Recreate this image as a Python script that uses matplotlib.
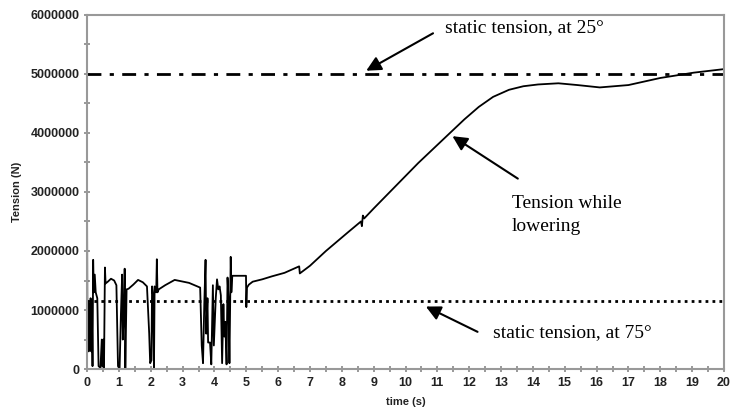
import matplotlib
matplotlib.use("Agg")
import matplotlib.pyplot as plt
from matplotlib.ticker import MultipleLocator, FuncFormatter

# time (s) and measured tension (N) while lowering
time_s = [0.00, 0.01, 0.03, 0.05, 0.07, 0.09, 0.11, 0.13, 0.15, 0.17, 0.19, 0.21,
          0.24, 0.27, 0.32, 0.36, 0.42, 0.46, 0.48, 0.51, 0.53, 0.56, 0.58, 0.65,
          0.75, 0.85, 0.92, 0.97, 1.02, 1.06, 1.10, 1.12, 1.16, 1.18, 1.20, 1.24,
          1.30, 1.45, 1.60, 1.75, 1.88, 1.95, 1.98, 2.02, 2.04, 2.07, 2.10, 2.12,
          2.17, 2.19, 2.21, 2.25, 2.45, 2.75, 3.20, 3.55, 3.60, 3.64, 3.68, 3.72,
          3.74, 3.78, 3.80, 3.86, 3.90, 3.95, 3.98, 4.04, 4.08, 4.12, 4.16, 4.20,
          4.24, 4.28, 4.31, 4.34, 4.38, 4.41, 4.44, 4.47, 4.51, 4.53, 4.56, 4.80,
          4.99, 5.00, 5.02, 5.08, 5.20, 5.50, 5.80, 6.20, 6.66, 6.68, 7.00, 7.50,
          8.20, 8.60, 8.63, 8.66, 8.70, 9.00, 9.60, 10.40, 11.34, 11.85, 12.30,
          12.75, 13.25, 13.70, 14.16, 14.80, 15.40, 16.10, 17.00, 18.00, 19.05,
          20.00]
tension = [2.50, 0.30, 1.15, 0.30, 1.10, 0.45, 1.20, 0.30, 0.95, 0.05, 1.85, 1.30,
           1.60, 1.30, 1.20, 0.05, 0.02, 0.50, 0.05, 0.50, 0.00, 1.72, 1.45, 1.48,
           1.53, 1.50, 1.42, 0.05, 0.00, 0.90, 1.60, 0.50, 1.10, 1.70, 0.00, 1.35,
           1.36, 1.43, 1.51, 1.47, 1.40, 0.60, 0.10, 0.15, 1.40, 1.25, 0.00, 1.40,
           1.30, 1.86, 1.30, 1.35, 1.42, 1.51, 1.46, 1.38, 0.40, 0.10, 1.10, 1.85,
           0.60, 1.20, 0.45, 0.45, 0.08, 1.42, 0.40, 1.20, 1.52, 1.35, 1.40, 1.25,
           0.10, 1.10, 0.55, 0.80, 0.08, 1.55, 1.20, 0.10, 1.90, 1.30, 1.58, 1.58,
           1.58, 1.05, 1.38, 1.43, 1.48, 1.52, 1.57, 1.63, 1.74, 1.62, 1.75, 2.00,
           2.32, 2.50, 2.42, 2.60, 2.55, 2.72, 3.05, 3.49, 3.97, 4.23, 4.44,
           4.61, 4.73, 4.79, 4.82, 4.84, 4.81, 4.77, 4.81, 4.93, 5.02,
           5.08]
tension = [v * 1e6 for v in tension]

static_25 = 5000000
static_75 = 1150000

fig = plt.figure(figsize=(7.32, 4.11), dpi=100)
ax = fig.add_axes([0.119, 0.102, 0.870, 0.862])

ax.plot(time_s, tension, color="black", lw=1.3)
ax.axhline(static_25, color="black", lw=2, linestyle=(0, (5, 3, 1.5, 3)))
ax.axhline(static_75, color="black", lw=2, linestyle=(0, (1, 1.5)))

ax.set_xlim(0, 20)
ax.set_ylim(0, 6000000)
ax.xaxis.set_major_locator(MultipleLocator(1))
ax.xaxis.set_minor_locator(MultipleLocator(0.5))
ax.yaxis.set_major_locator(MultipleLocator(1000000))
ax.yaxis.set_minor_locator(MultipleLocator(500000))
ax.yaxis.set_major_formatter(FuncFormatter(lambda v, p: f"{int(v)}"))

for s in ax.spines.values():
    s.set_color("#999999")
    s.set_linewidth(1.5)
ax.tick_params(which="both", direction="inout", color="#888888", width=1.2)
ax.tick_params(which="major", length=5, pad=3)
ax.tick_params(which="minor", length=4)
for lab in ax.get_xticklabels() + ax.get_yticklabels():
    lab.set_fontfamily("Liberation Sans")
    lab.set_fontweight("bold")
    lab.set_fontsize(9)
    lab.set_color("#222222")

ax.set_ylabel("Tension (N)", fontfamily="Liberation Sans", fontweight="bold",
              fontsize=8, color="#222222", labelpad=6)
ax.set_xlabel("time (s)", fontfamily="Liberation Sans", fontweight="bold",
              fontsize=8, color="#222222", labelpad=6)

arrow = dict(arrowstyle="-|>", color="black", lw=1.5, mutation_scale=22)
txt = dict(fontfamily="Liberation Serif", fontsize=14, color="black")

ax.annotate("", xy=(8.69, 5030000), xytext=(10.94, 5710000), arrowprops=arrow)
ax.text(11.25, 5790000, "static tension, at 25°", va="center", ha="left", **txt)

ax.annotate("", xy=(11.4, 3970000), xytext=(13.6, 3200000), arrowprops=arrow)
ax.text(13.34, 2610000, "Tension while\nlowering", va="center", ha="left",
        linespacing=1.45, **txt)

ax.annotate("", xy=(10.56, 1080000), xytext=(12.34, 610000), arrowprops=arrow)
ax.text(12.75, 610000, "static tension, at 75°", va="center", ha="left", **txt)

fig.savefig("out.png", dpi=100)
